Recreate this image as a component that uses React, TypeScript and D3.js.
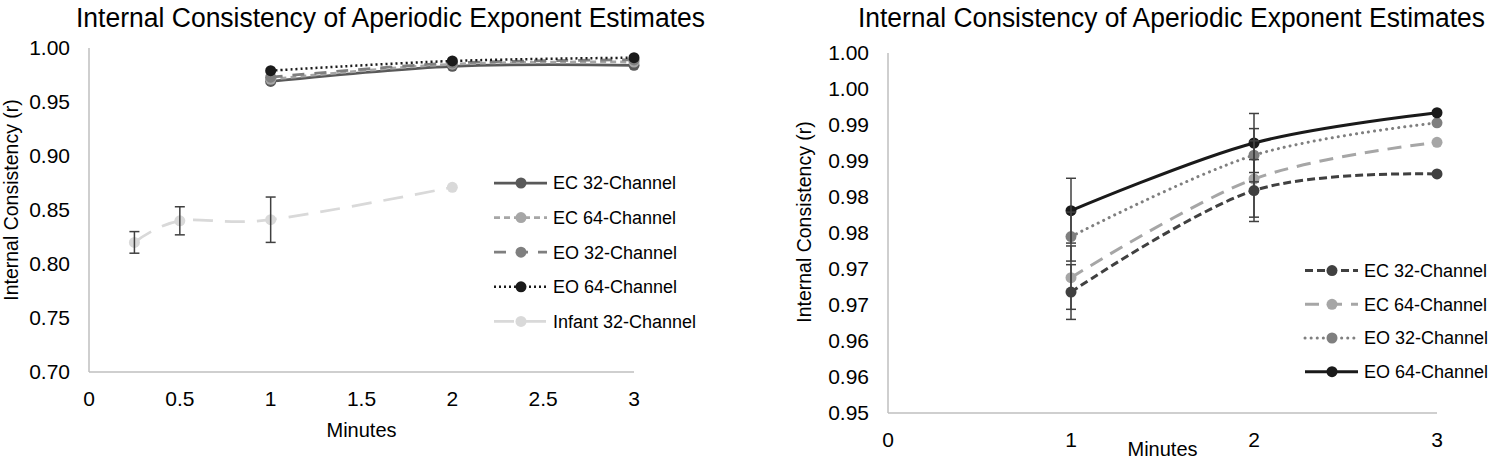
import React from "react";
import * as d3 from "d3";

// ---------- data ----------
const TITLE = "Internal Consistency of Aperiodic Exponent Estimates";
const Y_LABEL = "Internal Consistency (r)";
const X_LABEL = "Minutes";

// left chart
const leftMinutes = [1, 2, 3];
const leftEC32 = [0.969, 0.983, 0.984];
const leftEC64 = [0.971, 0.985, 0.987];
const leftEO32 = [0.973, 0.986, 0.989];
const leftEO64 = [0.979, 0.988, 0.991];
const infantMinutes = [0.25, 0.5, 1, 2];
const infant32 = [0.82, 0.84, 0.841, 0.871];
const infant32Err = [0.01, 0.013, 0.021, 0];
const leftYTicks = [0.7, 0.75, 0.8, 0.85, 0.9, 0.95, 1.0];
const leftYTickLabels = ["0.70", "0.75", "0.80", "0.85", "0.90", "0.95", "1.00"];
const leftXTicks = [0, 0.5, 1, 1.5, 2, 2.5, 3];
const leftXTickLabels = ["0", "0.5", "1", "1.5", "2", "2.5", "3"];

// right chart
const rightMinutes = [1, 2, 3];
const rightEC32 = [0.9668, 0.9809, 0.9832];
const rightEC64 = [0.9688, 0.9825, 0.9876];
const rightEO32 = [0.9745, 0.9858, 0.9903];
const rightEO64 = [0.9781, 0.9875, 0.9917];
const rightEC32Err = [0.0038, 0.0043, 0];
const rightEC64Err = [0.0044, 0.0053, 0];
const rightEO32Err = [0.0034, 0.0037, 0];
const rightEO64Err = [0.0045, 0.0041, 0];
const rightYTicks = [0.95, 0.955, 0.96, 0.965, 0.97, 0.975, 0.98, 0.985, 0.99, 0.995, 1.0];
const rightYTickLabels = ["0.95", "0.96", "0.96", "0.97", "0.97", "0.98", "0.98", "0.99", "0.99", "1.00", "1.00"];
const rightXTicks = [0, 1, 2, 3];
const rightXTickLabels = ["0", "1", "2", "3"];

const FONT = "'Liberation Sans', Arial, sans-serif";
const AXIS = "#bfbfbf";
const ERR = "#404040";

type Series = {
  name: string;
  xs: number[];
  ys: number[];
  err?: number[];
  color: string;
  dash: string;
  width: number;
  cap?: string;
};

function Chart({
  series,
  x,
  y,
  yTicks,
  yTickLabels,
  xTicks,
  xTickLabels,
  titleX,
  titleLen,
  yLabelX,
  yLabelY,
  yTickX,
  xTickY,
  xLabelY,
  legendX,
  legendY,
  legendStep,
}: any) {
  const [x0, x1] = x.range();
  const [yb, yt] = y.range();
  const line = d3
    .line<[number, number]>()
    .x((d) => x(d[0]))
    .y((d) => y(d[1]))
    .curve(d3.curveCardinal.tension(0));
  return (
    <g>
      <text
        x={titleX}
        y={27}
        fontSize={27}
        textAnchor="middle"
        textLength={titleLen}
        lengthAdjust="spacingAndGlyphs"
        fill="#000"
      >
        {TITLE}
      </text>
      {/* axes */}
      <line x1={x0} x2={x0} y1={yt} y2={yb} stroke={AXIS} strokeWidth={1.5} />
      <line x1={x0} x2={x1} y1={yb} y2={yb} stroke={AXIS} strokeWidth={1.5} />
      {yTicks.map((t: number, i: number) => (
        <text key={"yt" + i} x={yTickX} y={y(t)} dy="0.35em" fontSize={21} textAnchor="end" fill="#000">
          {yTickLabels[i]}
        </text>
      ))}
      {xTicks.map((t: number, i: number) => (
        <text key={"xt" + i} x={x(t)} y={xTickY} fontSize={21} textAnchor="middle" fill="#000">
          {xTickLabels[i]}
        </text>
      ))}
      <text x={(x0 + x1) / 2} y={xLabelY} fontSize={20} textAnchor="middle" fill="#000">
        {X_LABEL}
      </text>
      <text
        transform={`translate(${yLabelX},${yLabelY}) rotate(-90)`}
        fontSize={19.5}
        textAnchor="middle"
        fill="#000"
      >
        {Y_LABEL}
      </text>
      {/* lines */}
      {series.map((s: Series, i: number) => (
        <path
          key={"l" + i}
          d={line(s.xs.map((v, j) => [v, s.ys[j]]) as [number, number][]) || ""}
          fill="none"
          stroke={s.color}
          strokeWidth={s.width}
          strokeDasharray={s.dash}
          strokeLinecap={(s.cap as any) || "butt"}
        />
      ))}
      {/* markers */}
      {series.map((s: Series, i: number) =>
        s.xs.map((v, j) => (
          <circle key={"m" + i + "-" + j} cx={x(v)} cy={y(s.ys[j])} r={5.5} fill={s.color} />
        ))
      )}
      {/* error bars */}
      {series.map((s: Series, i: number) =>
        s.err
          ? s.xs.map((v, j) => {
              const e = s.err![j];
              if (!e) return null;
              const cx = x(v);
              const a = y(s.ys[j] + e);
              const b = y(s.ys[j] - e);
              return (
                <g key={"e" + i + "-" + j} stroke={ERR} strokeWidth={1.5}>
                  <line x1={cx} x2={cx} y1={a} y2={b} />
                  <line x1={cx - 5} x2={cx + 5} y1={a} y2={a} />
                  <line x1={cx - 5} x2={cx + 5} y1={b} y2={b} />
                </g>
              );
            })
          : null
      )}
      {/* legend */}
      {series.map((s: Series, i: number) => {
        const ly = legendY + i * legendStep;
        return (
          <g key={"lg" + i}>
            <line
              x1={legendX}
              x2={legendX + 53}
              y1={ly}
              y2={ly}
              stroke={s.color}
              strokeWidth={s.width}
              strokeDasharray={s.dash}
              strokeLinecap={(s.cap as any) || "butt"}
            />
            <circle cx={legendX + 27} cy={ly} r={5.5} fill={s.color} />
            <text x={legendX + 59} y={ly} dy="0.35em" fontSize={18} fill="#000">
              {s.name}
            </text>
          </g>
        );
      })}
    </g>
  );
}

export default function App() {
  const lx = d3.scaleLinear().domain([0, 3]).range([89, 634]);
  const ly = d3.scaleLinear().domain([0.7, 1.0]).range([372, 48]);
  const rx = d3.scaleLinear().domain([0, 3]).range([888, 1437]);
  const ry = d3.scaleLinear().domain([0.95, 1.0]).range([413, 53]);

  const leftSeries: Series[] = [
    { name: "EC 32-Channel", xs: leftMinutes, ys: leftEC32, color: "#595959", dash: "", width: 2.75 },
    { name: "EC 64-Channel", xs: leftMinutes, ys: leftEC64, color: "#a6a6a6", dash: "6,4", width: 2.75 },
    { name: "EO 32-Channel", xs: leftMinutes, ys: leftEO32, color: "#7f7f7f", dash: "12,10", width: 2.75 },
    { name: "EO 64-Channel", xs: leftMinutes, ys: leftEO64, color: "#1a1a1a", dash: "2,3", width: 2.5 },
    { name: "Infant 32-Channel", xs: infantMinutes, ys: infant32, err: infant32Err, color: "#d9d9d9", dash: "20,12", width: 2.75 },
  ];
  const rightSeries: Series[] = [
    { name: "EC 32-Channel", xs: rightMinutes, ys: rightEC32, err: rightEC32Err, color: "#404040", dash: "8,4", width: 3 },
    { name: "EC 64-Channel", xs: rightMinutes, ys: rightEC64, err: rightEC64Err, color: "#a6a6a6", dash: "14,9", width: 3 },
    { name: "EO 32-Channel", xs: rightMinutes, ys: rightEO32, err: rightEO32Err, color: "#7f7f7f", dash: "0.1,6", width: 3, cap: "round" },
    { name: "EO 64-Channel", xs: rightMinutes, ys: rightEO64, err: rightEO64Err, color: "#1a1a1a", dash: "", width: 3 },
  ];

  return (
    <svg
      width={1500}
      height={459}
      style={{ position: "absolute", left: 0, top: 0, background: "#fff" }}
      fontFamily={FONT}
    >
      <rect width={1500} height={459} fill="#fff" />
      <Chart
        series={leftSeries}
        x={lx}
        y={ly}
        yTicks={leftYTicks}
        yTickLabels={leftYTickLabels}
        xTicks={leftXTicks}
        xTickLabels={leftXTickLabels}
        titleX={390.5}
        titleLen={629}
        yLabelX={18}
        yLabelY={200}
        yTickX={70}
        xTickY={406}
        xLabelY={437}
        legendX={494}
        legendY={183}
        legendStep={34.6}
      />
      <Chart
        series={rightSeries}
        x={rx}
        y={ry}
        yTicks={rightYTicks}
        yTickLabels={rightYTickLabels}
        xTicks={rightXTicks}
        xTickLabels={rightXTickLabels}
        titleX={1171.5}
        titleLen={627}
        yLabelX={811}
        yLabelY={222}
        yTickX={869}
        xTickY={447}
        xLabelY={456}
        legendX={1305}
        legendY={270.6}
        legendStep={33.7}
      />
    </svg>
  );
}
